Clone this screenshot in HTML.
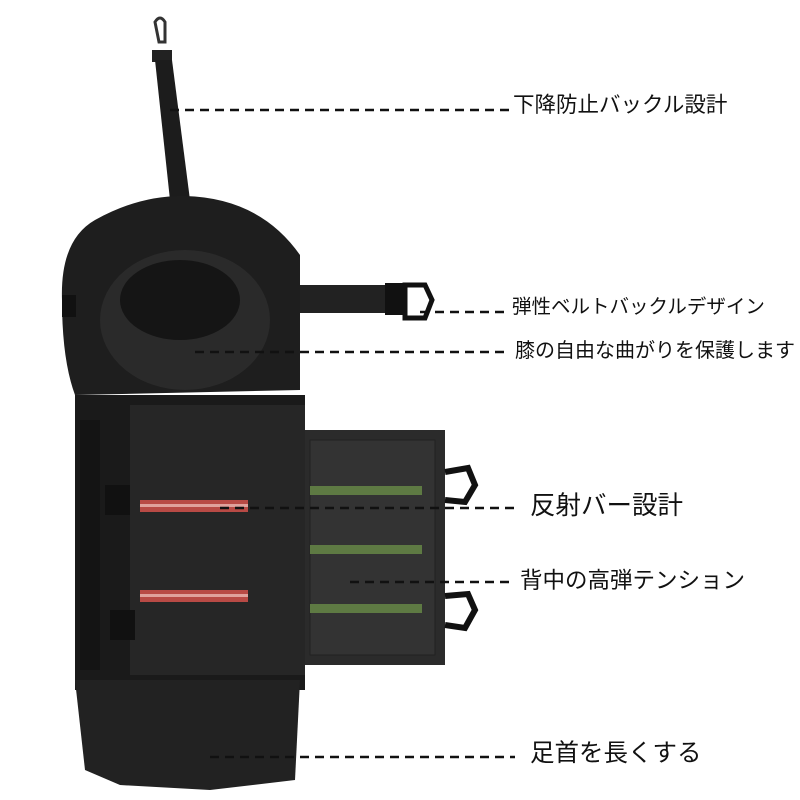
<!DOCTYPE html>
<html><head><meta charset="utf-8">
<style>
html,body{margin:0;padding:0;background:#fff;}
svg{display:block}
text{font-family:"Liberation Sans","Noto Sans CJK JP",sans-serif;fill:#111}
</style></head>
<body>
<svg width="800" height="800" viewBox="0 0 800 800" xmlns="http://www.w3.org/2000/svg">
<rect width="800" height="800" fill="#fff"/>
<path d="M155 22 q5 -8 10 0 l0 20 l-6 0 z" fill="none" stroke="#333" stroke-width="3"/>
<rect x="152" y="50" width="20" height="12" fill="#222"/>
<path d="M155 60 L172 60 L190 200 L170 200 Z" fill="#1c1c1c"/>
<rect x="270" y="285" width="130" height="28" fill="#222"/>
<rect x="385" y="283" width="18" height="32" fill="#111"/>
<path d="M405 285 L425 285 L432 300 L425 318 L405 318 Z" fill="none" stroke="#111" stroke-width="5"/>
<rect x="305" y="430" width="140" height="235" fill="#2b2b2b"/>
<rect x="310" y="440" width="125" height="215" fill="#333" stroke="#222"/>
<rect x="310" y="486" width="112" height="9" fill="#5e7a43"/>
<rect x="310" y="545" width="112" height="9" fill="#5e7a43"/>
<rect x="310" y="604" width="112" height="9" fill="#5e7a43"/>
<path d="M445 472 L468 468 L475 485 L465 502 L445 500" fill="none" stroke="#111" stroke-width="6"/>
<path d="M445 596 L468 594 L475 610 L465 628 L445 625" fill="none" stroke="#111" stroke-width="6"/>
<path d="M75 395 L305 395 L305 690 L75 690 Z" fill="#1a1a1a"/>
<path d="M75 680 L300 680 L295 780 L210 790 L120 785 L85 770 Z" fill="#222"/>
<rect x="130" y="405" width="175" height="270" fill="#262626"/>
<rect x="80" y="420" width="20" height="250" fill="#141414"/>
<path d="M62 300 Q60 240 95 220 Q140 195 185 196 Q260 198 300 255 L300 390 L75 395 Q62 360 62 300 Z" fill="#1e1e1e"/>
<ellipse cx="185" cy="320" rx="85" ry="70" fill="#2a2a2a"/>
<ellipse cx="180" cy="300" rx="60" ry="40" fill="#151515"/>
<rect x="105" y="485" width="25" height="30" fill="#111"/>
<rect x="110" y="610" width="25" height="30" fill="#111"/>
<rect x="62" y="295" width="14" height="22" fill="#111"/>
<rect x="140" y="500" width="108" height="12" fill="#b84a45"/>
<rect x="140" y="504" width="108" height="3" fill="#e0a19c"/>
<rect x="140" y="590" width="108" height="12" fill="#b84a45"/>
<rect x="140" y="594" width="108" height="3" fill="#e0a19c"/>
<g stroke="#111" stroke-width="2.5" stroke-dasharray="9 6">
<line x1="170" y1="110" x2="510" y2="110"/>
<line x1="420" y1="312" x2="506" y2="312"/>
<line x1="195" y1="352" x2="510" y2="352"/>
<line x1="220" y1="508" x2="515" y2="508"/>
<line x1="350" y1="582" x2="515" y2="582"/>
<line x1="210" y1="757" x2="515" y2="757"/>
</g>
<text x="513" y="112" font-size="21.5">下降防止バックル設計</text>
<text x="512" y="313" font-size="19.5">弾性ベルトバックルデザイン</text>
<text x="515" y="357" font-size="20">膝の自由な曲がりを保護します</text>
<text x="530" y="514" font-size="25.5">反射バー設計</text>
<text x="520" y="588" font-size="22.5">背中の高弾テンション</text>
<text x="530" y="761" font-size="24.5">足首を長くする</text>
</svg>
</body></html>
